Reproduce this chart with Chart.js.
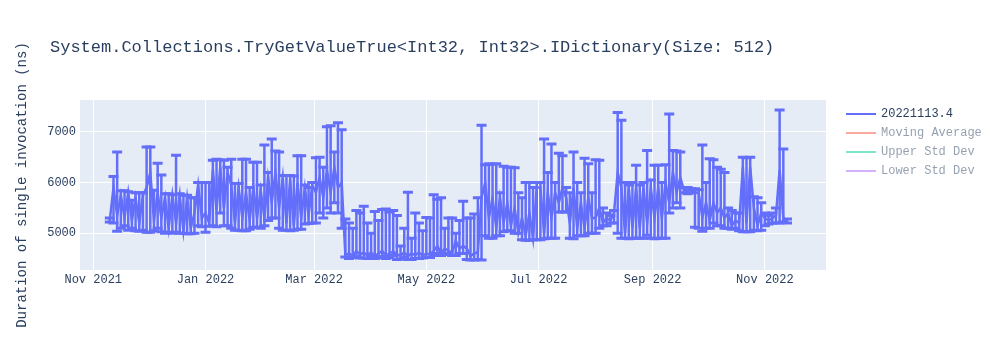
<!DOCTYPE html>
<html>
<head>
<meta charset="utf-8">
<script src="https://cdn.jsdelivr.net/npm/chart.js@4.4.0/dist/chart.umd.min.js"></script>
<style>
  html, body { margin: 0; padding: 0; background: #fff; }
</style>
</head>
<body>
<canvas id="benchChart" width="1000" height="350"></canvas>
<script>
const chartTitle = 'System.Collections.TryGetValueTrue<Int32, Int32>.IDictionary(Size: 512)';
const yAxisTitle = 'Duration of single invocation (ns)';

// one entry per benchmark run, one row per month
const runDates = [
  '2021-11-10', '2021-11-12', '2021-11-14', '2021-11-16', '2021-11-18', '2021-11-20', '2021-11-22', '2021-11-24', '2021-11-26', '2021-11-28', '2021-11-30',
  '2021-12-02', '2021-12-04', '2021-12-06', '2021-12-08', '2021-12-10', '2021-12-12', '2021-12-14', '2021-12-16', '2021-12-18', '2021-12-20', '2021-12-22', '2021-12-24', '2021-12-26', '2021-12-28', '2021-12-30',
  '2022-01-01', '2022-01-03', '2022-01-05', '2022-01-07', '2022-01-09', '2022-01-11', '2022-01-13', '2022-01-15', '2022-01-17', '2022-01-19', '2022-01-21', '2022-01-23', '2022-01-25', '2022-01-27', '2022-01-29', '2022-01-31',
  '2022-02-02', '2022-02-04', '2022-02-06', '2022-02-08', '2022-02-10', '2022-02-12', '2022-02-14', '2022-02-16', '2022-02-18', '2022-02-20', '2022-02-22', '2022-02-24', '2022-02-26', '2022-02-28',
  '2022-03-02', '2022-03-04', '2022-03-06', '2022-03-08', '2022-03-10', '2022-03-12', '2022-03-14', '2022-03-16', '2022-03-18', '2022-03-20', '2022-03-22', '2022-03-24', '2022-03-26', '2022-03-28', '2022-03-30',
  '2022-04-01', '2022-04-03', '2022-04-05', '2022-04-07', '2022-04-09', '2022-04-11', '2022-04-13', '2022-04-15', '2022-04-17', '2022-04-19', '2022-04-21', '2022-04-23', '2022-04-25', '2022-04-27', '2022-04-29',
  '2022-05-01', '2022-05-03', '2022-05-05', '2022-05-07', '2022-05-09', '2022-05-11', '2022-05-13', '2022-05-15', '2022-05-17', '2022-05-19', '2022-05-21', '2022-05-23', '2022-05-25', '2022-05-27', '2022-05-29', '2022-05-31',
  '2022-06-02', '2022-06-04', '2022-06-06', '2022-06-08', '2022-06-10', '2022-06-12', '2022-06-14', '2022-06-16', '2022-06-18', '2022-06-20', '2022-06-22', '2022-06-24', '2022-06-26', '2022-06-28', '2022-06-30',
  '2022-07-02', '2022-07-04', '2022-07-06', '2022-07-08', '2022-07-10', '2022-07-12', '2022-07-14', '2022-07-16', '2022-07-18', '2022-07-20', '2022-07-22', '2022-07-24', '2022-07-26', '2022-07-28', '2022-07-30',
  '2022-08-01', '2022-08-03', '2022-08-05', '2022-08-07', '2022-08-09', '2022-08-11', '2022-08-13', '2022-08-15', '2022-08-17', '2022-08-19', '2022-08-21', '2022-08-23', '2022-08-25', '2022-08-27', '2022-08-29', '2022-08-31',
  '2022-09-02', '2022-09-04', '2022-09-06', '2022-09-08', '2022-09-10', '2022-09-12', '2022-09-14', '2022-09-16', '2022-09-18', '2022-09-20', '2022-09-22', '2022-09-24', '2022-09-26', '2022-09-28', '2022-09-30',
  '2022-10-02', '2022-10-04', '2022-10-06', '2022-10-08', '2022-10-10', '2022-10-12', '2022-10-14', '2022-10-16', '2022-10-18', '2022-10-20', '2022-10-22', '2022-10-24', '2022-10-26', '2022-10-28', '2022-10-30',
  '2022-11-01', '2022-11-03', '2022-11-05', '2022-11-07', '2022-11-09', '2022-11-11', '2022-11-13',
];

const runValues = [
  5260, 5900, 5350, 5750, 5300, 5800, 5250, 5700, 5200, 5750, 5900,
  6200, 5250, 5800, 5300, 5700, 5100, 5750, 5200, 5750, 5050, 5700, 5100, 5400, 5950, 5300,
  5400, 5200, 6250, 5450, 6300, 5500, 6200, 5950, 5200, 5900, 5300, 5800, 5250, 5900, 5300, 5850,
  5300, 6100, 5600, 6200, 5500, 6100, 5200, 6050, 5150, 6000, 5300, 5900, 5350, 5950,
  5800, 6100, 5700, 6250, 5800, 6300, 5900, 6000, 4570, 4600, 4560, 4650, 4580, 4620, 4560,
  4620, 4550, 4600, 4650, 4560, 4600, 4640, 4580, 4560, 4620, 4550, 4600, 4570, 4620, 4560,
  4600, 4580, 4650, 4750, 4600, 4700, 4650, 4620, 4850, 4700, 4750, 4700, 4550, 4600, 4620, 5700,
  6000, 5300, 5700, 5100, 5700, 5200, 5600, 5150, 5500, 5000, 5300, 4950, 5400, 4900, 5900,
  5900, 5000, 5800, 5300, 5800, 5600, 5900, 5700, 5200, 5900, 5100, 5600, 5100, 5700, 5300,
  5300, 5500, 5200, 5300, 5250, 5400, 6200, 5900, 5000, 5900, 5100, 5900, 5100, 5900, 5200, 5900,
  5300, 5900, 5300, 6000, 5600, 6200, 5800, 6100, 5850, 5850, 5850, 5800, 5800, 5300, 5600,
  5250, 5600, 5400, 5500, 5300, 5400, 5150, 5250, 5200, 6300, 5200, 6300, 5500, 5150, 5400,
  5300, 5250, 5300, 5350, 6250, 5300, 5240,
];

// top and bottom of each run's error bar
const runUpper = [
  5300, 6120, 6600, 5840, 5840, 5820, 5650, 5800, 5800, 5800, 6700,
  6700, 5850, 6380, 6150, 5780, 5780, 5760, 6540, 5780, 5750, 5750, 5700, 5700, 6000, 6000,
  6000, 6000, 6440, 6460, 6450, 6440, 6300, 6460, 5980, 5980, 6460, 6460, 5900, 6400, 6400, 5950,
  6740, 6200, 6860, 6620, 6600, 6140, 6140, 6140, 6130, 6530, 6530, 5950, 5900, 6000,
  6490, 6500, 6300, 7100, 7120, 6600, 7180, 7040, 5280, 5200, 5100, 5450, 5400, 5530, 5200,
  5000, 5430, 5250, 5470, 5480, 5420, 5450, 5350, 4750, 5100, 5810, 4900, 5400, 5200, 5050,
  5310, 5300, 5760, 5670, 5700, 5100, 5300, 5300, 5000, 5250, 5630, 5300, 5300, 5380, 5700, 7130,
  6350, 6370, 6360, 6370, 5800, 6320, 6300, 6300, 6290, 5800, 5700, 6000, 6000, 5900, 6000,
  6000, 6860, 6200, 6760, 6000, 6580, 6530, 5900, 5800, 6600, 6000, 5800, 6480, 6370, 5800,
  6450, 6440, 5500, 5400, 5350, 5450, 7380, 7230, 6000, 5950, 6000, 6340, 5950, 6000, 6630, 6050,
  6340, 6340, 6000, 6350, 7350, 6630, 6620, 6600, 5900, 5900, 5880, 5880, 5860, 6740, 6000,
  6470, 6450, 6300, 6260, 6200, 5500, 5450, 5400, 5400, 6500, 6490, 6500, 5720, 5700, 5600,
  5400, 5350, 5400, 5500, 7430, 6660, 5280,
];

const runLower = [
  5220, 5200, 5040, 5100, 5150, 5060, 5100, 5050, 5040, 5060, 5020,
  5020, 5050, 5100, 5030, 5000, 5020, 5000, 5020, 5000, 5000, 4990, 4990, 5000, 5150, 5130,
  5020, 5140, 5150, 5130, 5400, 5150, 5150, 5100, 5060, 5060, 5050, 5050, 5080, 5120, 5120, 5100,
  5150, 5250, 5300, 5300, 5100, 5060, 5060, 5050, 5060, 5080, 5080, 5180, 5190, 5200,
  5200, 5400, 5300, 5500, 5400, 5600, 5400, 5100, 4530, 4500, 4520, 4540, 4510, 4510, 4500,
  4540, 4500, 4520, 4540, 4500, 4520, 4560, 4480, 4490, 4520, 4480, 4480, 4500, 4500, 4510,
  4520, 4520, 4560, 4600, 4560, 4580, 4600, 4560, 4560, 4600, 4600, 4480, 4470, 4470, 4480, 4470,
  4950, 4900, 4900, 4950, 4950, 5030, 5050, 5050, 5000, 5000, 4870, 4860, 4860, 4870, 4870,
  4870, 4890, 4900, 4900, 4900, 5420, 5420, 5420, 4900, 4890, 4950, 4950, 4950, 5000, 5000,
  5000, 5100, 5150, 5150, 5200, 5200, 5000, 4900, 4900, 4890, 4900, 4900, 4900, 4900, 4960, 4900,
  4890, 4900, 4900, 4900, 5400, 5500, 5600, 5500, 5800, 5780, 5800, 5120, 5100, 5040, 5100,
  5100, 5200, 5150, 5150, 5100, 5100, 5080, 5100, 5050, 5030, 5030, 5030, 5060, 5050, 5060,
  5150, 5180, 5200, 5200, 5200, 5220, 5200,
];

const xTickDates = ['2021-11-01', '2022-01-01', '2022-03-01', '2022-05-01', '2022-07-01', '2022-09-01', '2022-11-01'];
const yTickValues = [5000, 6000, 7000];
const monthNames = ['Jan', 'Feb', 'Mar', 'Apr', 'May', 'Jun', 'Jul', 'Aug', 'Sep', 'Oct', 'Nov', 'Dec'];

const fontFamily = "'Liberation Mono', 'Courier New', monospace";
const textColor = '#2a3f5f';
const traceColor = '#636efa';
const plotBg = '#e5ecf6';
const DAY = 86400000;

const runTimes = runDates.map(d => Date.parse(d));
const xMin = Date.parse('2021-11-01') - 7.2 * DAY;
const xMax = Date.parse('2022-11-01') + 33.2 * DAY;

const plotBackground = {
  id: 'plotBackground',
  beforeDraw(chart) {
    const { ctx, chartArea: a } = chart;
    ctx.save();
    ctx.fillStyle = plotBg;
    ctx.fillRect(a.left, a.top, a.right - a.left, a.bottom - a.top);
    ctx.restore();
  },
};

const errorBars = {
  id: 'errorBars',
  beforeDatasetsDraw(chart) {
    const { ctx, scales: { x, y } } = chart;
    ctx.save();
    ctx.strokeStyle = traceColor;
    runTimes.forEach((t, i) => {
      const px = x.getPixelForValue(t);
      const top = y.getPixelForValue(runUpper[i]);
      const bot = y.getPixelForValue(runLower[i]);
      ctx.lineWidth = 2.5;
      ctx.beginPath();
      ctx.moveTo(px, top); ctx.lineTo(px, bot);
      ctx.stroke();
      ctx.lineWidth = 3;
      ctx.beginPath();
      ctx.moveTo(px - 5, top); ctx.lineTo(px + 5, top);
      ctx.moveTo(px - 5, bot); ctx.lineTo(px + 5, bot);
      ctx.stroke();
    });
    ctx.restore();
  },
};

// plotly-like title and legend (trend series are legend-only, drawn faded)
const titleAndLegend = {
  id: 'titleAndLegend',
  afterDraw(chart) {
    const { ctx } = chart;
    ctx.save();
    ctx.fillStyle = textColor;
    ctx.font = `17px ${fontFamily}`;
    ctx.textBaseline = 'alphabetic';
    ctx.textAlign = 'left';
    ctx.fillText(chartTitle, 50, 52);

    ctx.font = `12px ${fontFamily}`;
    ctx.textBaseline = 'middle';
    chart.data.datasets.forEach((ds, i) => {
      const y = 114 + i * 19;
      ctx.globalAlpha = ds.hidden ? 0.5 : 1;
      ctx.strokeStyle = ds.borderColor;
      ctx.lineWidth = 2;
      ctx.beginPath();
      ctx.moveTo(846, y);
      ctx.lineTo(876, y);
      ctx.stroke();
      ctx.fillStyle = textColor;
      ctx.fillText(ds.label, 881, y);
    });
    ctx.restore();
  },
};

new Chart(document.getElementById('benchChart'), {
  type: 'line',
  data: {
    datasets: [
      {
        label: '20221113.4',
        data: runTimes.map((t, i) => ({ x: t, y: runValues[i] })),
        borderColor: traceColor,
        backgroundColor: traceColor,
        borderWidth: 2.5,
        pointRadius: 0,
        tension: 0,
      },
      { label: 'Moving Average', data: [], borderColor: '#ef553b', hidden: true },
      { label: 'Upper Std Dev', data: [], borderColor: '#00cc96', hidden: true },
      { label: 'Lower Std Dev', data: [], borderColor: '#ab63fa', hidden: true },
    ],
  },
  options: {
    responsive: false,
    devicePixelRatio: 1,
    animation: false,
    layout: { padding: { top: 100, right: 174, bottom: 50, left: 0 } },
    plugins: {
      legend: { display: false },
      title: { display: false },
      tooltip: { enabled: false },
    },
    scales: {
      x: {
        type: 'linear',
        min: xMin,
        max: xMax,
        grid: { color: '#ffffff', lineWidth: 1, drawTicks: false },
        border: { display: false },
        ticks: {
          color: textColor,
          font: { family: fontFamily, size: 12 },
          padding: 3,
          maxRotation: 0,
          autoSkip: false,
          callback: v => {
            const d = new Date(v);
            return monthNames[d.getUTCMonth()] + ' ' + d.getUTCFullYear();
          },
        },
        afterBuildTicks: scale => { scale.ticks = xTickDates.map(d => ({ value: Date.parse(d) })); },
        afterFit: scale => { scale.height = 30; },
      },
      y: {
        min: 4275,
        max: 7628,
        grid: { color: '#ffffff', lineWidth: 1, drawTicks: false },
        border: { display: false },
        ticks: {
          color: textColor,
          font: { family: fontFamily, size: 12 },
          padding: 4,
          callback: v => String(v),
        },
        title: {
          display: true,
          text: yAxisTitle,
          color: textColor,
          font: { family: fontFamily, size: 14 },
          padding: { top: 13.6, bottom: 0 },
        },
        afterBuildTicks: scale => { scale.ticks = yTickValues.map(v => ({ value: v })); },
        afterFit: scale => { scale.width = 80; },
      },
    },
  },
  plugins: [plotBackground, errorBars, titleAndLegend],
});
</script>
</body>
</html>
